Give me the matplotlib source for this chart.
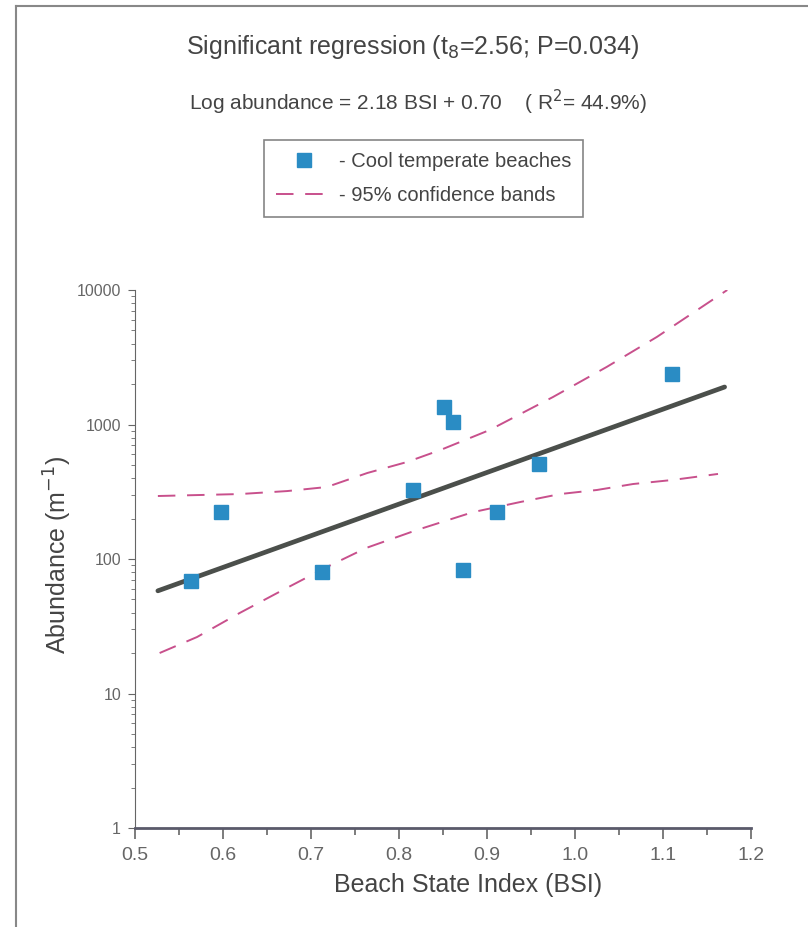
import numpy as np
import matplotlib.pyplot as plt
from matplotlib.lines import Line2D

plt.rcParams['font.family'] = ['Liberation Sans', 'DejaVu Sans']

# dados
bsi = [0.564, 0.598, 0.7125, 0.816, 0.851, 0.861, 0.873, 0.911, 0.959, 1.110]
abundance = [69, 224, 80, 327, 1340, 1035, 83, 224, 512, 2360]

# reta de regressao (extremos)
fit_x = [0.526, 1.170]
fit_y = [58, 1900]

# bandas de confianca 95%
upper_x = [0.526, 0.619, 0.673, 0.718, 0.764, 0.809, 0.847, 0.903, 0.975, 1.036, 1.093, 1.173]
upper_y = [294, 304, 320, 343, 436, 526, 646, 910, 1601, 2678, 4475, 10000]
lower_x = [0.528, 0.5705, 0.619, 0.668, 0.718, 0.763, 0.820, 0.884, 0.9375, 0.983, 1.025, 1.066, 1.111, 1.1625]
lower_y = [20.0, 26.3, 39.7, 58.8, 87.2, 121, 164, 223, 265, 304, 326, 361, 387, 429]

xticks = [0.5, 0.6, 0.7, 0.8, 0.9, 1.0, 1.1, 1.2]
yticks = [1, 10, 100, 1000, 10000]

blue = '#2a8cc4'
pink = '#c8508c'

fig = plt.figure(figsize=(8.08, 9.27), dpi=100)
ax = fig.add_axes([135/808, 1-828/927, 616/808, 538/927])

ax.plot(upper_x, upper_y, color=pink, lw=1.4, dashes=(9, 6))
ax.plot(lower_x, lower_y, color=pink, lw=1.4, dashes=(9, 6))
ax.plot(fit_x, fit_y, color='#4b4f4b', lw=3.4, solid_capstyle='round')
ax.plot(bsi, abundance, 's', color=blue, ms=10, mec=blue)

ax.set_yscale('log')
ax.set_xlim(0.5, 1.2)
ax.set_ylim(1, 10000)
ax.set_xticks(xticks)
ax.set_xticklabels(['%.1f' % v for v in xticks])
ax.set_xticks(np.arange(0.55, 1.2, 0.1), minor=True)
ax.set_yticks(yticks)
ax.set_yticklabels([str(v) for v in yticks])

for s in ['top', 'right']:
    ax.spines[s].set_visible(False)
ax.spines['left'].set_color('#666666')
ax.spines['bottom'].set_color('#5a5a6a')
ax.spines['bottom'].set_linewidth(2)
ax.tick_params(axis='both', which='major', labelsize=14, labelcolor='#666666', color='#666666')
ax.tick_params(axis='x', which='major', length=8, width=1.2, pad=6)
ax.tick_params(axis='x', which='minor', length=5, width=1.2, color='#666666')
ax.tick_params(axis='y', which='major', length=5, pad=5)
ax.tick_params(axis='y', which='minor', length=3, color='#666666')
for lb in ax.get_yticklabels():
    lb.set_fontsize(11.5)

ax.set_xlabel('Beach State Index (BSI)', fontsize=18, color='#444444')
ax.xaxis.set_label_coords((468-135)/616, (828-885)/538)
ax.xaxis.label.set_va('center')
ax.set_ylabel('Abundance (m$^{-1}$)', fontsize=18, color='#444444')
ax.yaxis.set_label_coords((58-135)/616, (828-555)/538)
ax.yaxis.label.set_va('center')

# titulos
fig.text(413/808, 1-47/927, 'Significant regression (t$_8$=2.56; P=0.034)',
         ha='center', va='center', fontsize=18, color='#444444')
fig.text(418/808, 1-102/927, 'Log abundance = 2.18 BSI + 0.70    ( R$^2$= 44.9%)',
         ha='center', va='center', fontsize=15, color='#444444')

# legenda
handles = [Line2D([], [], marker='s', color=blue, ls='none', ms=10),
           Line2D([], [], color=pink, lw=1.4, dashes=(9, 6))]
leg = fig.legend(handles, ['- Cool temperate beaches', '- 95% confidence bands'],
                 loc='upper left', bbox_to_anchor=(264/808, 1-140/927),
                 fontsize=14.5, frameon=True, fancybox=False, handlelength=2.8,
                 handletextpad=0.3, labelspacing=0.75, borderpad=0.6, borderaxespad=0)
leg.get_frame().set_edgecolor('#666666')
leg.get_frame().set_linewidth(1.2)
for t in leg.get_texts():
    t.set_color('#444444')

# moldura da figura
fig.add_artist(Line2D([16/808, 16/808], [0, 1-6/927], color='#888888', lw=1.5))
fig.add_artist(Line2D([16/808, 1], [1-6/927, 1-6/927], color='#888888', lw=1.5))

plt.savefig('out.png', dpi=100)
